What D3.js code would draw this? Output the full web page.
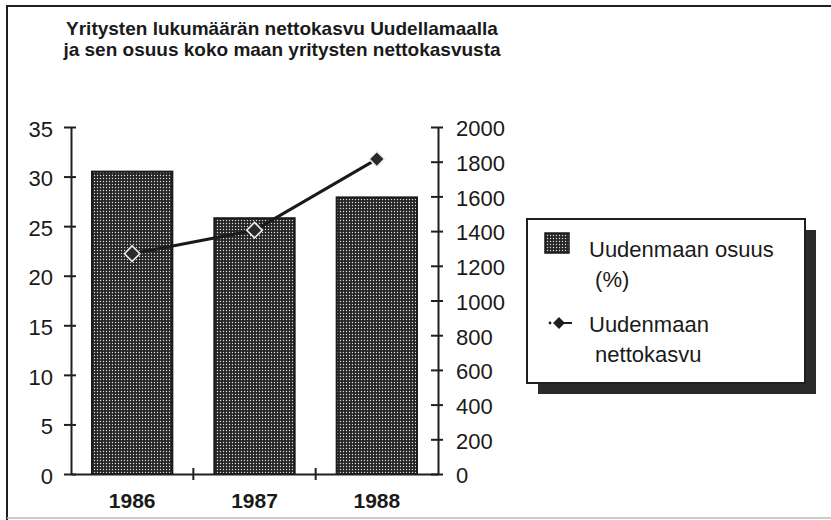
<!DOCTYPE html>
<html>
<head>
<meta charset="utf-8">
<script src="https://cdn.jsdelivr.net/npm/d3@7"></script>
<style>
body { margin: 0; background: #fff; }
text { font-family: "Liberation Sans", Arial, Helvetica, sans-serif; fill: #1a1a1a; }
</style>
</head>
<body>
<script>
var years = ["1986", "1987", "1988"];
var osuus = [30.5, 25.8, 27.9];          // Uudenmaan osuus (%)
var nettokasvu = [1270, 1405, 1815];     // Uudenmaan nettokasvu
var leftTicks = [0, 5, 10, 15, 20, 25, 30, 35];
var rightTicks = [0, 200, 400, 600, 800, 1000, 1200, 1400, 1600, 1800, 2000];
var titleLines = ["Yritysten lukumäärän nettokasvu Uudellamaalla",
                  "ja sen osuus koko maan yritysten nettokasvusta"];
var legendLabels = [["Uudenmaan osuus", " (%)"], ["Uudenmaan", " nettokasvu"]];

var w = 831;
var h = 520;
var plotL = 71, plotR = 438, plotT = 127, plotB = 474;
var ink = "#1f1f1f";

var svg = d3.select("body")
			.append("svg")
			.attr("width", w)
			.attr("height", h);

// dotted fill used by the bars
var pat = svg.append("defs").append("pattern")
	.attr("id", "dots")
	.attr("patternUnits", "userSpaceOnUse")
	.attr("width", 3)
	.attr("height", 3);
pat.append("rect").attr("width", 3).attr("height", 3).attr("fill", "#252525");
pat.append("circle").attr("cx", 1.5).attr("cy", 1.5).attr("r", 0.7).attr("fill", "#dcdcdc");

// frame
svg.append("path")
	.attr("d", "M7," + h + " L7,6 L" + w + ",6")
	.attr("fill", "none")
	.attr("stroke", ink)
	.attr("stroke-width", 2);
svg.append("line")
	.attr("x1", 7).attr("x2", w).attr("y1", 518).attr("y2", 518)
	.attr("stroke", "#bbb").attr("stroke-width", 1.5);

// title
svg.selectAll("text.title")
	.data(titleLines)
	.enter()
	.append("text")
	.attr("class", "title")
	.text(function(d){return d;})
	.attr("x", 282)
	.attr("y", function(d, i){return 35 + i * 21;})
	.attr("text-anchor", "middle")
	.attr("font-size", 19)
	.attr("font-weight", "bold");

var x = d3.scaleBand().domain(years).range([plotL, plotR]);
var yL = d3.scaleLinear().domain([0, 35]).range([plotB, plotT]);
var yR = d3.scaleLinear().domain([0, 2000]).range([plotB, plotT]);

// bars
svg.selectAll("rect.bar")
	.data(osuus)
	.enter()
	.append("rect")
	.attr("class", "bar")
	.attr("x", function(d, i){return x(years[i]) + 21;})
	.attr("width", x.bandwidth() - 42)
	.attr("y", function(d){return yL(d);})
	.attr("height", function(d){return plotB - yL(d);})
	.attr("fill", "url(#dots)")
	.attr("stroke", "#1a1a1a")
	.attr("stroke-width", 2);

// left axis
var gL = svg.append("g")
	.attr("transform", "translate(" + plotL + ",0)")
	.call(d3.axisLeft(yL).tickValues(leftTicks).tickSize(0).tickPadding(0));
gL.select(".domain").attr("stroke", ink).attr("stroke-width", 2);
gL.selectAll(".tick line").attr("x1", -7).attr("x2", 5).attr("stroke", ink).attr("stroke-width", 2);
gL.selectAll(".tick text")
	.attr("x", -18).attr("dy", "0.42em")
	.attr("font-size", 22).attr("font-family", null).attr("fill", ink);

// right axis
var gR = svg.append("g")
	.attr("transform", "translate(" + plotR + ",0)")
	.call(d3.axisRight(yR).tickValues(rightTicks).tickFormat(d3.format("d")).tickSize(0).tickPadding(0));
gR.select(".domain").attr("stroke", ink).attr("stroke-width", 2);
gR.selectAll(".tick line").attr("x1", -7).attr("x2", 5).attr("stroke", ink).attr("stroke-width", 2);
gR.selectAll(".tick text")
	.attr("x", 18).attr("dy", "0.4em")
	.attr("font-size", 22).attr("font-family", null).attr("fill", ink);

// bottom axis
var gB = svg.append("g")
	.attr("transform", "translate(0," + plotB + ")")
	.call(d3.axisBottom(x).tickSize(0).tickPadding(0));
gB.select(".domain").attr("stroke", ink).attr("stroke-width", 2);
gB.selectAll(".tick line").remove();
gB.selectAll(".tick text")
	.attr("y", 34).attr("dy", 0)
	.attr("font-size", 21).attr("font-weight", "bold")
	.attr("font-family", null).attr("fill", ink);
// category separators
gB.selectAll("line.sep")
	.data(years.slice(1))
	.enter()
	.append("line")
	.attr("class", "sep")
	.attr("x1", function(d){return x(d);})
	.attr("x2", function(d){return x(d);})
	.attr("y1", -6).attr("y2", 6)
	.attr("stroke", ink).attr("stroke-width", 2);

// line series
var line = d3.line()
	.x(function(d, i){return x(years[i]) + x.bandwidth() / 2;})
	.y(function(d){return yR(d);});
svg.append("path")
	.datum(nettokasvu)
	.attr("d", line)
	.attr("fill", "none")
	.attr("stroke", "#1a1a1a")
	.attr("stroke-width", 3);

var diamond = d3.symbol().type(d3.symbolSquare).size(120);
svg.selectAll("path.mark")
	.data(nettokasvu)
	.enter()
	.append("path")
	.attr("class", "mark")
	.attr("d", diamond)
	.attr("transform", function(d, i){
		return "translate(" + (x(years[i]) + x.bandwidth() / 2) + "," + yR(d) + ") rotate(45)";
	})
	.attr("fill", "#2a2a2a")
	.attr("stroke", "#f0f0f0")
	.attr("stroke-width", 1.6);

// legend
var lg = svg.append("g");
lg.append("rect")
	.attr("x", 538).attr("y", 230).attr("width", 278).attr("height", 164)
	.attr("fill", "#2a2a2a");
lg.append("rect")
	.attr("x", 527).attr("y", 219).attr("width", 278).attr("height", 164)
	.attr("fill", "#fff").attr("stroke", ink).attr("stroke-width", 2);
lg.append("rect")
	.attr("x", 545).attr("y", 233).attr("width", 24).attr("height", 20)
	.attr("fill", "url(#dots)").attr("stroke", "#1a1a1a").attr("stroke-width", 1.5);
lg.append("circle").attr("cx", 550).attr("cy", 323).attr("r", 1.4).attr("fill", ink);
lg.append("line")
	.attr("x1", 564).attr("x2", 572).attr("y1", 323).attr("y2", 323)
	.attr("stroke", ink).attr("stroke-width", 2);
lg.append("path")
	.attr("d", d3.symbol().type(d3.symbolSquare).size(70))
	.attr("transform", "translate(559,323) rotate(45)")
	.attr("fill", ink);

var legendText = lg.selectAll("text.leg")
	.data(legendLabels)
	.enter()
	.append("text")
	.attr("class", "leg")
	.attr("font-size", 22);
legendText.selectAll("tspan")
	.data(function(d){return d;})
	.enter()
	.append("tspan")
	.attr("x", 589)
	.attr("y", function(d, i, nodes){
		var k = legendLabels.indexOf(d3.select(nodes[i].parentNode).datum());
		return (k === 0 ? 257 : 332) + i * 30;
	})
	.attr("xml:space", "preserve")
	.style("white-space", "pre")
	.text(function(d){return d;});
</script>
</body>
</html>
